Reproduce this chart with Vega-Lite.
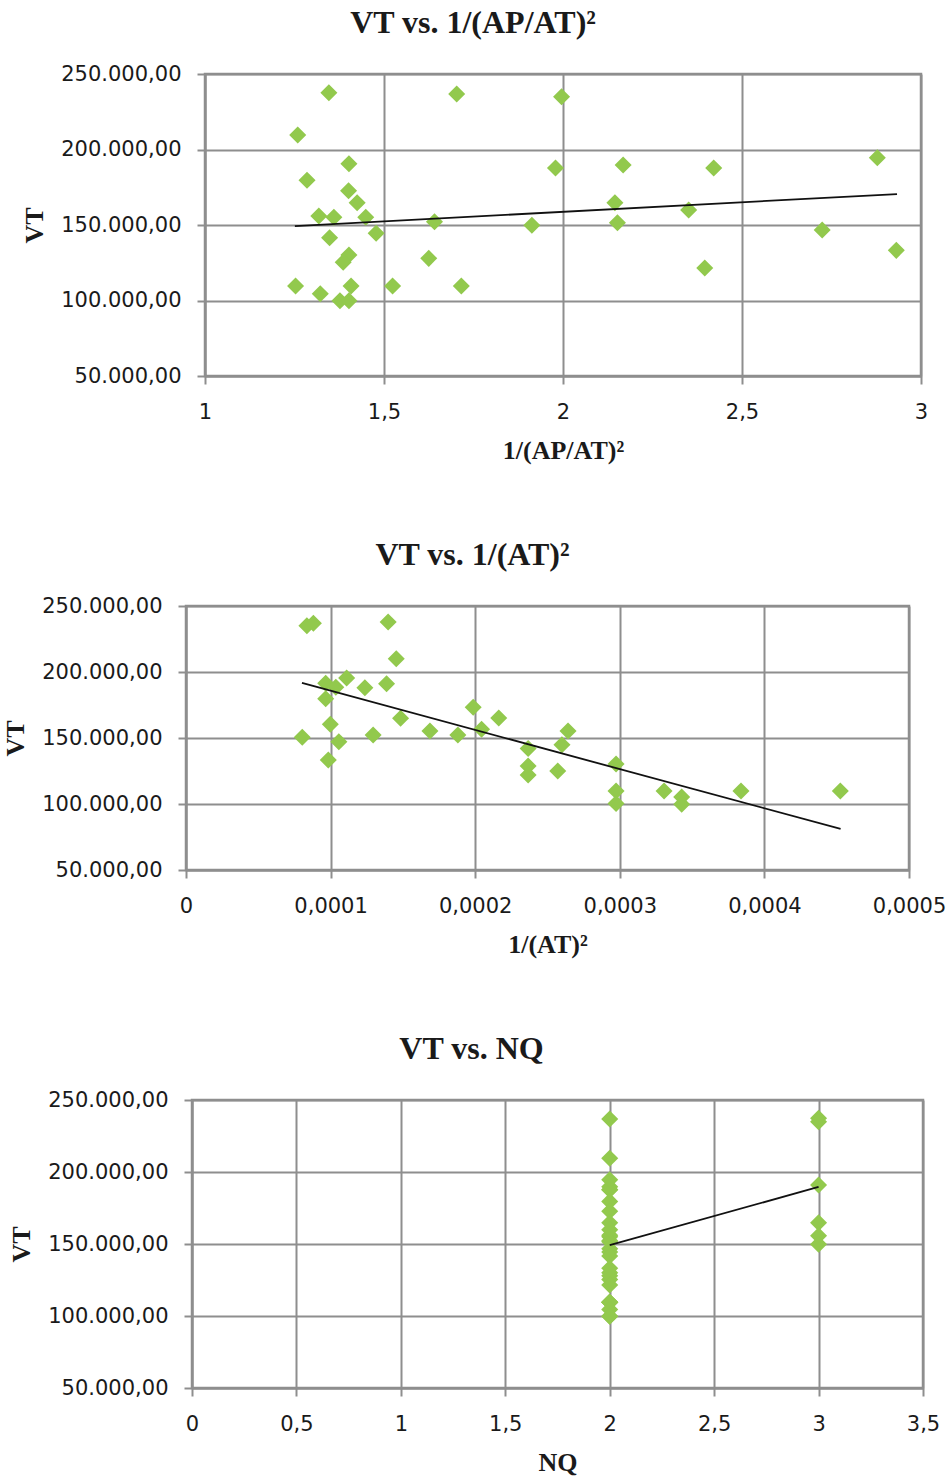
{
  "$schema": "https://vega.github.io/schema/vega-lite/v6.json",
  "padding": {"left": 0, "top": 5, "right": 0, "bottom": 0},
  "background": "white",
  "config": {
    "locale": {"number": {"decimal": ",", "thousands": ".", "grouping": [3], "currency": ["", " €"]}},
    "view": {"stroke": null},
    "axis": {
      "labelFont": "DejaVu Sans", "labelFontSize": 21, "labelColor": "#1a1a1a", "labelFlush": false,
      "titleFont": "Liberation Serif", "titleFontSize": 26, "titleFontWeight": "bold", "titleColor": "#1a1a1a",
      "gridColor": "#8e8e8e", "gridWidth": 2, "gridOpacity": 1,
      "domainColor": "#8e8e8e", "domainWidth": 2,
      "tickColor": "#8e8e8e", "tickWidth": 2, "tickSize": 8
    },
    "axisX": {"labelPadding": 17, "titlePadding": 15},
    "axisY": {"labelPadding": 16, "titlePadding": 13},
    "title": {"font": "Liberation Serif", "fontSize": 32, "fontWeight": "bold", "color": "#1a1a1a", "offset": 23}
  },
  "datasets": {
    "p1": [
      {"x": 1.346, "vt": 237600}, {"x": 1.703, "vt": 236800}, {"x": 1.996, "vt": 235000},
      {"x": 1.259, "vt": 209600}, {"x": 1.402, "vt": 190600}, {"x": 1.979, "vt": 187700},
      {"x": 2.168, "vt": 189700}, {"x": 2.421, "vt": 187700}, {"x": 2.878, "vt": 194600},
      {"x": 1.285, "vt": 179600}, {"x": 1.401, "vt": 172700}, {"x": 1.425, "vt": 164800},
      {"x": 2.145, "vt": 164800}, {"x": 1.318, "vt": 156000}, {"x": 1.36, "vt": 155100},
      {"x": 1.449, "vt": 155100}, {"x": 1.641, "vt": 152200}, {"x": 1.913, "vt": 149800},
      {"x": 2.152, "vt": 151500}, {"x": 2.351, "vt": 159900}, {"x": 1.478, "vt": 144500},
      {"x": 2.724, "vt": 146700}, {"x": 1.348, "vt": 141600}, {"x": 1.402, "vt": 130100},
      {"x": 1.386, "vt": 125300}, {"x": 1.625, "vt": 127900}, {"x": 2.396, "vt": 121500},
      {"x": 2.931, "vt": 133200}, {"x": 1.253, "vt": 109600}, {"x": 1.408, "vt": 109600},
      {"x": 1.524, "vt": 109600}, {"x": 1.716, "vt": 109600}, {"x": 1.322, "vt": 104500},
      {"x": 1.377, "vt": 99900}, {"x": 1.402, "vt": 99900}
    ],
    "t1": [{"x": 1.251, "vt": 149300}, {"x": 2.933, "vt": 170500}],
    "p2": [
      {"x": 0.0000836, "vt": 235100}, {"x": 0.0000881, "vt": 236900}, {"x": 0.0001398, "vt": 237900},
      {"x": 0.0001454, "vt": 210100}, {"x": 0.0000966, "vt": 191400}, {"x": 0.0001036, "vt": 188400},
      {"x": 0.0001111, "vt": 195500}, {"x": 0.0001237, "vt": 188100}, {"x": 0.0001387, "vt": 191100},
      {"x": 0.0000966, "vt": 179800}, {"x": 0.0001986, "vt": 173300}, {"x": 0.0001484, "vt": 164900},
      {"x": 0.0002163, "vt": 165200}, {"x": 0.0001687, "vt": 155300}, {"x": 0.000188, "vt": 152300},
      {"x": 0.0002044, "vt": 156600}, {"x": 0.0000804, "vt": 150500}, {"x": 0.0001294, "vt": 152300},
      {"x": 0.0000998, "vt": 160400}, {"x": 0.0001057, "vt": 147200}, {"x": 0.0002366, "vt": 142100},
      {"x": 0.0000984, "vt": 133300}, {"x": 0.0002366, "vt": 128800}, {"x": 0.0002366, "vt": 122000},
      {"x": 0.0002642, "vt": 155300}, {"x": 0.00026, "vt": 144900}, {"x": 0.0002571, "vt": 125000},
      {"x": 0.0002974, "vt": 130300}, {"x": 0.0002974, "vt": 109800}, {"x": 0.0002974, "vt": 100300},
      {"x": 0.0003306, "vt": 109800}, {"x": 0.0003428, "vt": 105300}, {"x": 0.0003428, "vt": 99800},
      {"x": 0.0003838, "vt": 109800}, {"x": 0.0004525, "vt": 109800}
    ],
    "t2": [{"x": 0.0000802, "vt": 191700}, {"x": 0.0004527, "vt": 81100}],
    "p3": [
      {"nq": 3, "vt": 237300}, {"nq": 3, "vt": 234900}, {"nq": 3, "vt": 191000},
      {"nq": 3, "vt": 164800}, {"nq": 3, "vt": 155700}, {"nq": 3, "vt": 149800},
      {"nq": 2, "vt": 236800}, {"nq": 2, "vt": 209600}, {"nq": 2, "vt": 187700},
      {"nq": 2, "vt": 189700}, {"nq": 2, "vt": 187700}, {"nq": 2, "vt": 194600},
      {"nq": 2, "vt": 179600}, {"nq": 2, "vt": 172700}, {"nq": 2, "vt": 164800},
      {"nq": 2, "vt": 156000}, {"nq": 2, "vt": 155100}, {"nq": 2, "vt": 152200},
      {"nq": 2, "vt": 151500}, {"nq": 2, "vt": 159900}, {"nq": 2, "vt": 144500},
      {"nq": 2, "vt": 146700}, {"nq": 2, "vt": 141600}, {"nq": 2, "vt": 130100},
      {"nq": 2, "vt": 125300}, {"nq": 2, "vt": 127900}, {"nq": 2, "vt": 121500},
      {"nq": 2, "vt": 133200}, {"nq": 2, "vt": 109600}, {"nq": 2, "vt": 109600},
      {"nq": 2, "vt": 109600}, {"nq": 2, "vt": 109600}, {"nq": 2, "vt": 104500},
      {"nq": 2, "vt": 99900}, {"nq": 2, "vt": 99900}
    ],
    "t3": [{"nq": 2, "vt": 149300}, {"nq": 3, "vt": 189600}]
  },
  "spacing": 72,
  "vconcat": [
    {
      "spacing": 0,
      "hconcat": [
        {"width": 20, "height": 10, "data": {"values": []}, "mark": "point", "encoding": {}},
        {
          "title": {"text": "VT vs. 1/(AP/AT)²", "dx": -90},
          "width": 716, "height": 302,
          "view": {"stroke": "#8e8e8e", "strokeWidth": 2.5},
          "layer": [
            {
              "data": {"name": "p1"},
              "mark": {"type": "point", "shape": "diamond", "filled": true, "size": 290, "color": "#92C94D", "opacity": 1},
              "encoding": {
                "x": {"field": "x", "type": "quantitative", "scale": {"domain": [1, 3], "nice": false, "zero": false},
                      "axis": {"values": [1, 1.5, 2, 2.5, 3], "format": "~g", "title": "1/(AP/AT)²"}},
                "y": {"field": "vt", "type": "quantitative", "scale": {"domain": [50000, 250000], "nice": false, "zero": false},
                      "axis": {"values": [50000, 100000, 150000, 200000, 250000], "format": ",.2f", "title": "VT"}}
              }
            },
            {
              "data": {"name": "t1"},
              "mark": {"type": "line", "color": "#111111", "strokeWidth": 1.8},
              "encoding": {
                "x": {"field": "x", "type": "quantitative"},
                "y": {"field": "vt", "type": "quantitative"}
              }
            }
          ]
        }
      ]
    },
    {
      "spacing": 0,
      "hconcat": [
        {"width": 1, "height": 10, "data": {"values": []}, "mark": "point", "encoding": {}},
        {
          "title": {"text": "VT vs. 1/(AT)²", "dx": -75},
          "width": 723, "height": 264,
          "view": {"stroke": "#8e8e8e", "strokeWidth": 2.5},
          "layer": [
            {
              "data": {"name": "p2"},
              "mark": {"type": "point", "shape": "diamond", "filled": true, "size": 290, "color": "#92C94D", "opacity": 1},
              "encoding": {
                "x": {"field": "x", "type": "quantitative", "scale": {"domain": [0, 0.0005], "nice": false, "zero": false},
                      "axis": {"values": [0, 0.0001, 0.0002, 0.0003, 0.0004, 0.0005], "format": "~g", "title": "1/(AT)²"}},
                "y": {"field": "vt", "type": "quantitative", "scale": {"domain": [50000, 250000], "nice": false, "zero": false},
                      "axis": {"values": [50000, 100000, 150000, 200000, 250000], "format": ",.2f", "title": "VT"}}
              }
            },
            {
              "data": {"name": "t2"},
              "mark": {"type": "line", "color": "#111111", "strokeWidth": 1.8},
              "encoding": {
                "x": {"field": "x", "type": "quantitative"},
                "y": {"field": "vt", "type": "quantitative"}
              }
            }
          ]
        }
      ]
    },
    {
      "spacing": 0,
      "hconcat": [
        {"width": 7, "height": 10, "data": {"values": []}, "mark": "point", "encoding": {}},
        {
          "title": {"text": "VT vs. NQ", "dx": -86},
          "width": 731, "height": 288,
          "view": {"stroke": "#8e8e8e", "strokeWidth": 2.5},
          "layer": [
            {
              "data": {"name": "p3"},
              "mark": {"type": "point", "shape": "diamond", "filled": true, "size": 290, "color": "#92C94D", "opacity": 1},
              "encoding": {
                "x": {"field": "nq", "type": "quantitative", "scale": {"domain": [0, 3.5], "nice": false, "zero": false},
                      "axis": {"values": [0, 0.5, 1, 1.5, 2, 2.5, 3, 3.5], "format": "~g", "title": "NQ"}},
                "y": {"field": "vt", "type": "quantitative", "scale": {"domain": [50000, 250000], "nice": false, "zero": false},
                      "axis": {"values": [50000, 100000, 150000, 200000, 250000], "format": ",.2f", "title": "VT"}}
              }
            },
            {
              "data": {"name": "t3"},
              "mark": {"type": "line", "color": "#111111", "strokeWidth": 1.8},
              "encoding": {
                "x": {"field": "nq", "type": "quantitative"},
                "y": {"field": "vt", "type": "quantitative"}
              }
            }
          ]
        }
      ]
    }
  ]
}
